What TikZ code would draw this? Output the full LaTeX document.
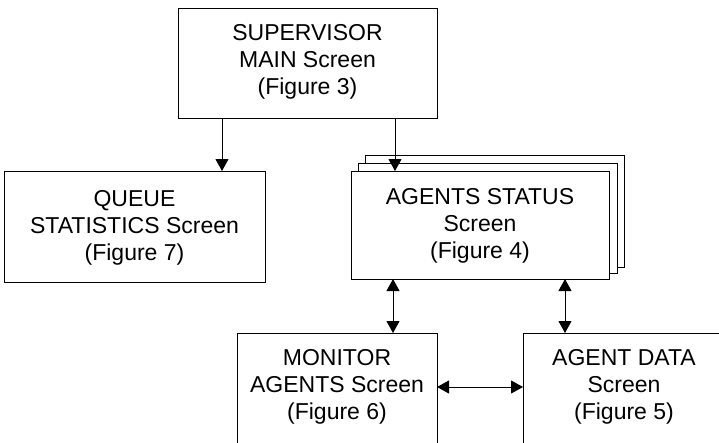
\documentclass[tikz,border=0pt]{standalone}
\usepackage{fontspec}
\setmainfont{Liberation Sans}
\usetikzlibrary{arrows.meta}
\tikzset{
  box/.style={draw, line width=0.9pt, fill=white},
  lbl/.style={align=center, font=\fontsize{23}{27}\selectfont, inner sep=0pt},
  arr/.style={line width=0.9pt, -{Triangle[width=13pt,length=12pt]}},
  darr/.style={line width=0.9pt, {Triangle[width=13pt,length=12pt]}-{Triangle[width=13pt,length=12pt]}},
}
\begin{document}
\begin{tikzpicture}[x=1pt,y=-1pt]
\useasboundingbox (0,0) rectangle (719,442);
\clip (0,0) rectangle (719,442);
% supervisor
\draw[box] (178,8) rectangle (437,118);
\node[lbl] (sup) at (307.5,62) {SUPERVISOR\\MAIN Screen\\(Figure 3)};
\coordinate (supL) at (222,118);
\coordinate (supR) at (395,118);
% queue
\draw[box] (4,171) rectangle (265,282);
\node[lbl] (que) at (134.5,228) {QUEUE\\STATISTICS Screen\\(Figure 7)};
\coordinate (queT) at (222,171);
% agents status stack
\draw[box] (365,155) rectangle (624,267);
\draw[box] (358,163) rectangle (617,273);
\draw[box] (351,171) rectangle (609,279);
\node[lbl] (ags) at (480,226) {AGENTS STATUS\\Screen\\(Figure 4)};
\coordinate (agsT) at (395,171);
\coordinate (agsBL) at (393,279);
\coordinate (agsBR) at (565,279);
% monitor
\draw[box] (237,460) -- (237,333) -- (437,333) -- (437,460);
\node[lbl] (mon) at (337,387) {MONITOR\\AGENTS Screen\\(Figure 6)};
\coordinate (monT) at (393,333);
\coordinate (monR) at (437,387);
% agent data
\draw[box] (523,460) -- (523,333) -- (740,333);
\node[lbl] (agd) at (624,387) {AGENT DATA\\Screen\\(Figure 5)};
\coordinate (agdT) at (565,333);
\coordinate (agdL) at (523,387);
% connectors
\draw[arr] (supL) -- (queT);
\draw[arr] (supR) -- (agsT);
\draw[darr] (agsBL) -- (monT);
\draw[darr] (agsBR) -- (agdT);
\draw[darr] (monR) -- (agdL);
\end{tikzpicture}
\end{document}
